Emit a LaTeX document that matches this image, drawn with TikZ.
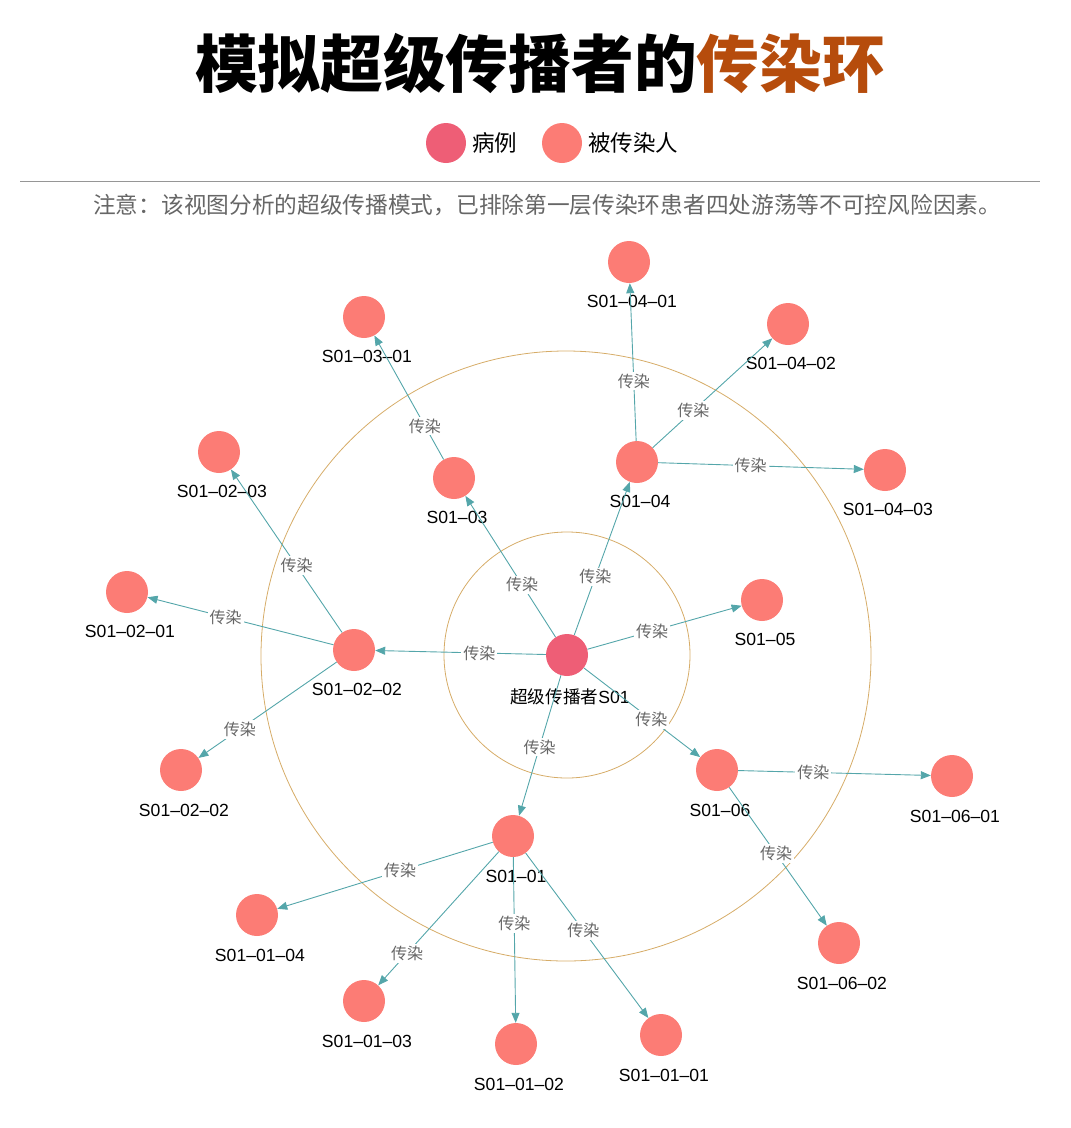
\documentclass[tikz,border=0pt]{standalone}
\usepackage{fontspec}
\setmainfont{Liberation Sans}
\newfontfamily\cjk{Noto Sans CJK SC}
\newfontfamily\cjkblack{Noto Sans CJK SC Black}
\usetikzlibrary{arrows.meta}
\definecolor{casecol}{RGB}{238,94,118}
\definecolor{infcol}{RGB}{252,124,117}
\definecolor{edgecol}{RGB}{84,166,170}
\definecolor{ringcol}{RGB}{214,172,104}
\definecolor{titleor}{RGB}{182,76,12}
\definecolor{lblgray}{RGB}{102,102,102}
\definecolor{sepgray}{RGB}{150,150,150}
\begin{document}
\begin{tikzpicture}[x=1pt,y=-1pt,
  person/.style={circle,fill=infcol,minimum size=42pt,inner sep=0pt},
  casenode/.style={circle,fill=casecol,minimum size=42pt,inner sep=0pt},
  nlbl/.style={font=\fontsize{17.6}{18}\selectfont,text=black,inner sep=0pt,xshift=3pt},
  elabel/.style={fill=white,text=lblgray,font=\cjk\fontsize{16}{16}\selectfont,inner sep=2pt},
  edgeline/.style={draw=edgecol,line width=0.9pt,-{Triangle[length=10pt,width=8pt]}},
  ring/.style={draw=ringcol,line width=0.8pt},
  label distance=12.3pt]
\useasboundingbox (0,0) rectangle (1071,1128);

% title
\node[font=\cjkblack\fontsize{62.7}{64}\selectfont,inner sep=0pt] (title) at (540,63)
  {模拟超级传播者的\textcolor{titleor}{传染环}};

% legend
\node[casenode,minimum size=40pt] (lgcase) at (446,143) {};
\node[anchor=west,font=\cjk\fontsize{22.5}{23}\selectfont,inner sep=0pt] (lgcasetxt) at (472,143) {病例};
\node[person,minimum size=40pt] (lginf) at (562,143) {};
\node[anchor=west,font=\cjk\fontsize{22.5}{23}\selectfont,inner sep=0pt] (lginftxt) at (588,143) {被传染人};

% separator and note
\draw[sepgray,line width=0.8pt] (20,181) -- (1040,181);
\node[anchor=west,font=\cjk\fontsize{22.7}{23}\selectfont,text=lblgray,inner sep=0pt] (note) at (93,205)
  {注意：该视图分析的超级传播模式，已排除第一层传染环患者四处游荡等不可控风险因素。};

% rings
\draw[ring] (567,655) circle[radius=123pt];
\draw[ring] (566,656) circle[radius=305pt];

% nodes
\node[casenode,label={[nlbl]below:{\cjk 超级传播者}S01}] (S01) at (567,655) {};
\node[person,label={[nlbl]below:S01–02–02}] (n0202) at (354,650) {};
\node[person,label={[nlbl]below:S01–02–01}] (n020201) at (127,592) {};
\node[person,label={[nlbl]below:S01–02–03}] (n020203) at (219,452) {};
\node[person,label={[nlbl]below:S01–02–02}] (n020202) at (181,770) {};
\node[person,label={[nlbl]below:S01–03}] (n03) at (454,478) {};
\node[person,label={[nlbl]below:S01–03–01}] (n0301) at (364,317) {};
\node[person,label={[nlbl]below:S01–04}] (n04) at (637,462) {};
\node[person,label={[nlbl]below:S01–04–01}] (n0401) at (629,262) {};
\node[person,label={[nlbl]below:S01–04–02}] (n0402) at (788,324) {};
\node[person,label={[nlbl]below:S01–04–03}] (n0403) at (885,470) {};
\node[person,label={[nlbl]below:S01–05}] (n05) at (762,600) {};
\node[person,label={[nlbl]below:S01–06}] (n06) at (717,770) {};
\node[person,label={[nlbl]below:S01–06–01}] (n0601) at (952,776) {};
\node[person,label={[nlbl]below:S01–06–02}] (n0602) at (839,943) {};
\node[person,label={[nlbl]below:S01–01}] (n01) at (513,836) {};
\node[person,label={[nlbl]below:S01–01–04}] (n0104) at (257,915) {};
\node[person,label={[nlbl]below:S01–01–03}] (n0103) at (364,1001) {};
\node[person,label={[nlbl]below:S01–01–02}] (n0102) at (516,1044) {};
\node[person,label={[nlbl]below:S01–01–01}] (n0101) at (661,1035) {};

% edges
\draw[edgeline] (S01) -- node[elabel,pos=0.39]{传染} (n0202);
\draw[edgeline] (S01) -- node[elabel,pos=0.37]{传染} (n03);
\draw[edgeline] (S01) -- node[elabel,pos=0.38]{传染} (n04);
\draw[edgeline] (S01) -- node[elabel,pos=0.42]{传染} (n05);
\draw[edgeline] (S01) -- node[elabel,pos=0.58]{传染} (n06);
\draw[edgeline] (S01) -- node[elabel,pos=0.51]{传染} (n01);

\draw[edgeline] (n0202) -- node[elabel,pos=0.58]{传染} (n020201);
\draw[edgeline] (n0202) -- node[elabel,pos=0.41]{传染} (n020203);
\draw[edgeline] (n0202) -- node[elabel,pos=0.70]{传染} (n020202);

\draw[edgeline] (n03) -- node[elabel,pos=0.27]{传染} (n0301);

\draw[edgeline] (n04) -- node[elabel,pos=0.38]{传染} (n0401);
\draw[edgeline] (n04) -- node[elabel,pos=0.34]{传染} (n0402);
\draw[edgeline] (n04) -- node[elabel,pos=0.45]{传染} (n0403);

\draw[edgeline] (n06) -- node[elabel,pos=0.39]{传染} (n0601);
\draw[edgeline] (n06) -- node[elabel,pos=0.48]{传染} (n0602);

\draw[edgeline] (n01) -- node[elabel,pos=0.43]{传染} (n0104);
\draw[edgeline] (n01) -- node[elabel,pos=0.76]{传染} (n0103);
\draw[edgeline] (n01) -- node[elabel,pos=0.40]{传染} (n0102);
\draw[edgeline] (n01) -- node[elabel,pos=0.47]{传染} (n0101);
\end{tikzpicture}
\end{document}
